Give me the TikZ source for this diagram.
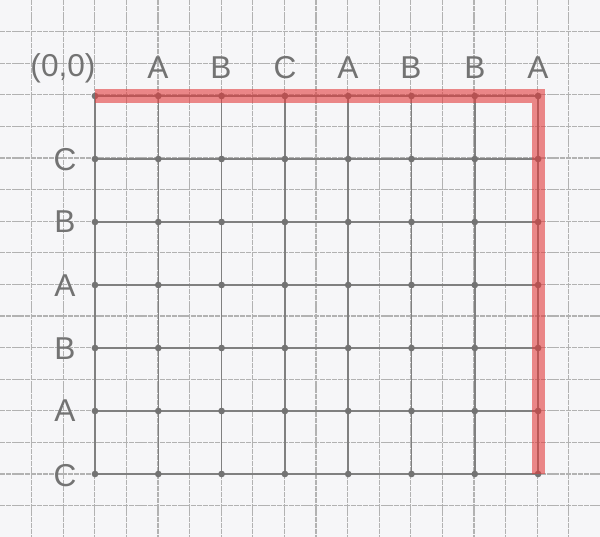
\documentclass[tikz,border=0pt]{standalone}
\usepackage{fontspec}
\setsansfont{Liberation Sans}
\definecolor{paperbg}{RGB}{246,246,248}
\definecolor{redink}{RGB}{226,60,60}
\begin{document}
\begin{tikzpicture}[x=0.02cm,y=-0.02cm,
  paper/.style={line width=0.6pt,draw=black!30,dash pattern=on 3pt off 0.5pt},
  gridline/.style={line width=0.8pt,draw=black!50},
  gdot/.style={circle,fill=black!55,inner sep=0pt,minimum size=3.8pt},
  lab/.style={font=\sffamily\fontsize{18}{18}\selectfont,text=black!55,inner sep=0pt},
  redpath/.style={line width=7.5pt,draw=redink,opacity=0.6,line join=miter,line cap=butt}]
\fill[paperbg] (0,0) rectangle (600,537);
\useasboundingbox (0,0) rectangle (600,537);
% graph paper
\foreach \k in {1,...,18} {\draw[paper] (31.6*\k,0) -- (31.6*\k,537);}
\foreach \k in {1,...,16} {\draw[paper] (0,31.6*\k) -- (600,31.6*\k);}
% main grid
\foreach \i in {0,...,7} {\draw[gridline] (95+63.3*\i,96) -- (95+63.3*\i,474);}
\foreach \j in {0,...,6} {\draw[gridline] (95,96+63*\j) -- (538,96+63*\j);}
\foreach \i in {0,...,7} {\foreach \j in {0,...,6} {\node[gdot] (p\i\j) at (95+63.3*\i,96+63*\j) {};}}
% red path
\draw[redpath] (p00.center) -- (p70.center) -- (p76.center);
% labels
\node[lab] (origin) at (63,68) {(0,0)};
\node[lab] (t1) at (158,68) {A};
\node[lab] (t2) at (221,68) {B};
\node[lab] (t3) at (285,68) {C};
\node[lab] (t4) at (348,68) {A};
\node[lab] (t5) at (411,68) {B};
\node[lab] (t6) at (475,68) {B};
\node[lab] (t7) at (538,68) {A};
\node[lab] (l1) at (65,160) {C};
\node[lab] (l2) at (65,222) {B};
\node[lab] (l3) at (65,286) {A};
\node[lab] (l4) at (65,349) {B};
\node[lab] (l5) at (65,411) {A};
\node[lab] (l6) at (65,476) {C};
\end{tikzpicture}
\end{document}
